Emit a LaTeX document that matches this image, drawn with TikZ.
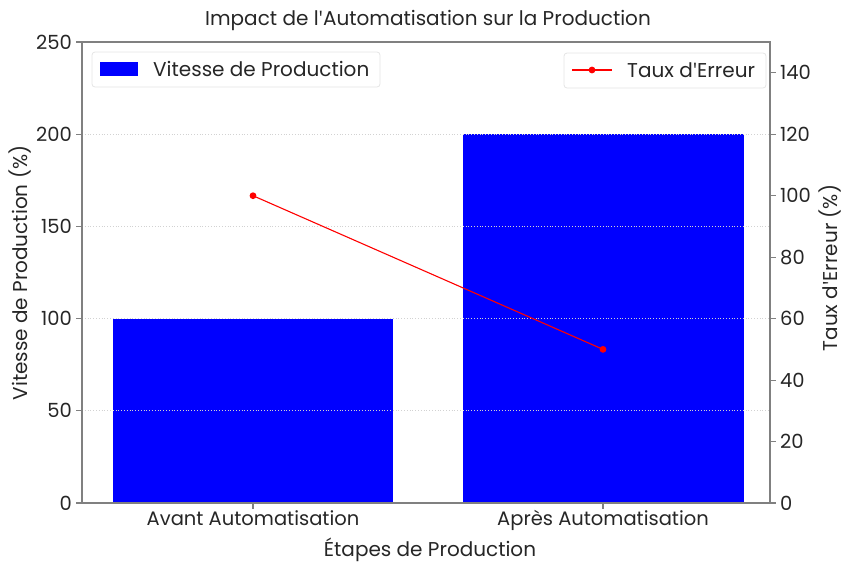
\documentclass[tikz,border=0pt]{standalone}
\usepackage{fontspec}
\setmainfont{Poppins}[Ligatures=ResetAll]
\newfontfamily\apofont{Open Sans}
\newcommand{\apo}{{\apofont '}}
\begin{document}
\begin{tikzpicture}[x=1pt, y=-1pt, font=\fontsize{20}{24}\selectfont, text=black!85]
\tikzset{
  spine/.style={draw=gray, line width=1.1pt},
  bar/.style={fill=blue},
  gridline/.style={draw=gray!35, dotted, line width=0.8pt},
  legendbox/.style={draw=gray!20, rounded corners=3pt, fill=white, line width=0.8pt},
  errline/.style={draw=red, line width=1.1pt},
  errdot/.style={circle, fill=red, inner sep=0pt, minimum size=6.8pt},
  ticklabel/.style={inner sep=0pt, font=\fontsize{19.5}{23}\selectfont},
}
\useasboundingbox (0,0) rectangle (845,563);
% scales: left axis 0..250, right axis 0..150
\def\ly#1{503-1.844*#1}
\def\ry#1{503-3.073*#1}
% bars
\fill[bar] (113,503) rectangle (393,{\ly{100}});
\fill[bar] (463,503) rectangle (744,{\ly{200}});
% grid
\foreach \v in {50,100,...,200}
  \draw[gridline] (82,{\ly{\v}}) -- (770,{\ly{\v}});
% frame
\draw[spine] (82,42) rectangle (770,503);
% left ticks
\foreach \v in {0,50,...,250} {
  \draw[spine] (76,{\ly{\v}}) -- (82,{\ly{\v}});
  \node[ticklabel, anchor=east] (l\v) at (72,{\ly{\v}}) {\v};
}
% right ticks
\foreach \v in {0,20,...,140} {
  \draw[spine] (770,{\ry{\v}}) -- (776,{\ry{\v}});
  \node[ticklabel, anchor=west] (r\v) at (780,{\ry{\v}}) {\v};
}
% x ticks
\draw[spine] (253,503) -- (253,509);
\draw[spine] (603,503) -- (603,509);
\node[ticklabel, anchor=north] (xa) at (253,510) {Avant Automatisation};
\node[ticklabel, anchor=north] (xb) at (603,510) {Après Automatisation};
% error rate
\node[errdot] (avant) at (253,{\ry{100}}) {};
\node[errdot] (apres) at (603,{\ry{50}}) {};
\draw[errline] (avant.center) -- (apres.center);
% legends
\draw[legendbox] (92,52) rectangle (380,87);
\fill[bar] (100,62) rectangle (138,76);
\node[anchor=west, inner sep=0pt] (lgv) at (153,69) {Vitesse de Production};
\draw[legendbox] (564,53) rectangle (766,88);
\node[errdot] (lgdot) at (592,70) {};
\coordinate (lga) at (572,70);
\coordinate (lgb) at (612,70);
\draw[errline] (lga) -- (lgb);
\node[anchor=west, inner sep=0pt] (lge) at (627,70) {Taux d\apo Erreur};
% titles
\node[inner sep=0pt] (title) at (428,20) {Impact de l\apo Automatisation sur la Production};
\node[inner sep=0pt] (xlabel) at (430,550) {Étapes de Production};
\node[rotate=90, inner sep=0pt] (ylabel) at (20,273) {Vitesse de Production (\%)};
\node[rotate=90, inner sep=0pt] (y2label) at (830,268) {Taux d\apo Erreur (\%)};
\end{tikzpicture}
\end{document}
